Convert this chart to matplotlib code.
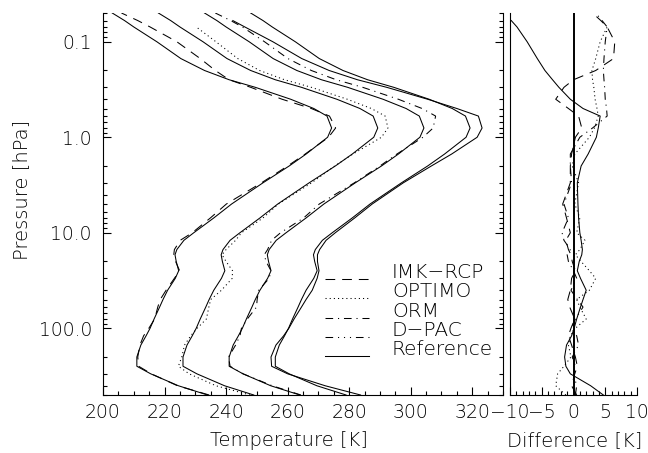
import numpy as np
import matplotlib
matplotlib.use('Agg')
import matplotlib.pyplot as plt
from matplotlib.ticker import FixedLocator, MultipleLocator, LogLocator, NullFormatter, FuncFormatter

# pressure levels [hPa], bottom to top
PRESSURE = [500, 400, 300, 250, 200, 150, 120, 100, 80, 60, 50, 40, 30, 25, 20, 17, 15,
            12, 10, 7, 5, 3, 2, 1.5, 1.0, 0.8, 0.6, 0.5, 0.4, 0.3, 0.25, 0.2, 0.15,
            0.1, 0.07, 0.06, 0.05]

# reference temperature profile [K]
T_REF = [234.0, 224.5, 215.5, 211.0, 211.0, 212.3, 214.0, 215.3, 216.6, 218.4, 219.5,
         221.0, 223.5, 224.6, 223.8, 223.4, 224.0, 226.3, 229.5, 236.0, 241.8, 252.0,
         260.5, 266.0, 273.0, 274.3, 272.8, 268.5, 261.0, 249.5, 241.0, 233.0, 225.3,
         217.5, 210.0, 207.0, 203.0]

nan = np.nan
# retrieval minus reference [K]
DIFF_IMK = [0.5, -0.3, 0.2, 0.6, 0.3, -0.3, -0.8, -0.4, 0.2, -0.6, -0.9, -0.5, -0.3, 0.3,
            -0.2, -0.4, -0.8, -1.2, -0.5, -1.1, -1.7, -0.5, -0.5, -0.3, 0.3, 1.3, 0.8,
            -0.8, -2.8, -1.5, 0.0, 3.5, 6.3, 6.5, 5.3, 4.3, 3.0]
DIFF_OPTIMO = [-1.2, -2.8, -2.5, -1.5, -0.4, -0.8, -0.5, 0.3, 2.0, 1.0, 0.5, 2.5, 3.5, 2.5,
               1.2, 0.3, 1.0, 1.8, 0.5, 1.0, 0.2, 0.8, -0.2, 0.2, 2.5, 3.3, 3.9, 3.7, 3.4,
               3.2, 3.0, 2.9, 3.5, 4.2, 5.3, nan, nan]
DIFF_ORM = [0.3, 0.5, 0.0, 0.3, -0.2, 0.8, 0.5, -0.3, 0.3, 1.5, 0.6, -0.4, 0.5, 0.0, -0.8,
            -1.0, -0.5, -1.5, -1.8, -0.8, -1.5, -0.3, -0.5, -0.5, 1.0, 3.0, 5.3, 5.2, 5.0,
            4.9, 4.8, 4.7, 4.8, 5.0, 5.3, 4.5, 3.5]
DIFF_DPAC = [4.7, 2.7, -0.5, -1.2, -1.4, -1.1, -0.3, 0.1, 0.5, 1.1, 1.5, 2.0, 1.1, 0.6, 0.9,
             1.3, 1.4, 1.2, 1.0, 0.8, 0.7, 0.6, 1.2, 2.3, 3.6, 3.9, 4.2, 1.5, -0.5, -2.3,
             -3.3, -4.5, -5.7, -7.3, -8.9, -9.8, nan]

# profiles are shifted by this much for clarity
OFFSETS = [0, 15, 30, 45]
LABELS = ['IMK\u2212RCP', 'OPTIMO', 'ORM', 'D\u2212PAC', 'Reference']

DASHED = (0, (7, 5))
DOTTED = (0, (0.8, 2.2))
DASHDOT = (0, (5.5, 3.5, 0.8, 3.5))
DASHDOT3 = (0, (5.5, 3.5, 0.8, 3.5, 0.8, 3.5, 0.8, 3.5))


def main():
    plt.rcParams['font.family'] = 'DejaVu Sans'
    plt.rcParams['font.weight'] = 'light'
    plt.rcParams['axes.labelweight'] = 'light'
    plt.rcParams['text.color'] = 'k'
    plt.rcParams['lines.scale_dashes'] = False
    plt.rcParams['axes.linewidth'] = 0.8

    p = np.array(PRESSURE)
    tref = np.array(T_REF)
    diffs = [np.array(DIFF_IMK), np.array(DIFF_OPTIMO), np.array(DIFF_ORM), np.array(DIFF_DPAC)]
    # D-PAC comes out solid in the original figure
    plot_styles = [DASHED, DOTTED, DASHDOT, '-']
    legend_styles = [DASHED, DOTTED, DASHDOT, DASHDOT3, '-']

    fig = plt.figure(figsize=(6.48, 4.53), dpi=100)
    ax1 = fig.add_axes([103 / 648, 1 - 395 / 453, 400 / 648, 382 / 453])
    ax2 = fig.add_axes([510 / 648, 1 - 395 / 453, 127 / 648, 382 / 453])

    lw = 0.75
    for off, d, ls in zip(OFFSETS, diffs, plot_styles):
        ax1.plot(tref + off, p, color='k', lw=lw, ls='-')
        ax1.plot(tref + d + off, p, color='k', lw=lw, ls=ls)

    for d, ls in zip(diffs, plot_styles):
        ax2.plot(d, p, color='k', lw=lw, ls=ls)
    ax2.axvline(0, color='k', lw=1.4)

    for ax in (ax1, ax2):
        ax.set_yscale('log')
        ax.set_ylim(500, 0.05)
        ax.spines['top'].set_visible(False)

    ax1.set_xlim(200, 330)
    ax1.xaxis.set_major_locator(FixedLocator([200, 220, 240, 260, 280, 300, 320]))
    ax1.xaxis.set_minor_locator(MultipleLocator(5))
    ax1.yaxis.set_major_locator(FixedLocator([0.1, 1, 10, 100]))
    ax1.yaxis.set_minor_locator(LogLocator(base=10, subs=np.arange(2, 10)))
    ax1.yaxis.set_major_formatter(FuncFormatter(lambda v, pos: {0.1: '0.1', 1: '1.0', 10: '10.0', 100: '100.0'}.get(v, '')))
    ax1.yaxis.set_minor_formatter(NullFormatter())
    ax1.tick_params(which='both', direction='in', top=False, right=True, labelsize=13.5,
                    labelcolor='k')
    ax1.tick_params(which='major', length=6, width=0.8)
    ax1.tick_params(which='minor', length=3, width=0.8)
    ax1.tick_params(axis='x', pad=6)
    ax1.tick_params(axis='y', pad=8)

    ax2.set_xlim(-10, 10)
    ax2.spines['right'].set_visible(False)
    ax2.xaxis.set_major_locator(MultipleLocator(5))
    ax2.xaxis.set_minor_locator(MultipleLocator(1))
    ax2.tick_params(which='both', direction='in', top=False, labelsize=13.5, pad=6,
                    labelcolor='k')
    ax2.tick_params(which='major', length=6, width=0.8)
    ax2.tick_params(which='minor', length=3, width=0.8)
    ax2.tick_params(axis='y', which='both', left=False, labelleft=False)

    ax1.set_xlabel('Temperature [K]', fontsize=14)
    ax1.xaxis.set_label_coords(0.465, -0.095)
    ax1.set_ylabel('Pressure [hPa]', fontsize=14)
    ax1.yaxis.set_label_coords(-0.18, 0.537)
    ax2.set_xlabel('Difference [K]', fontsize=14)
    ax2.xaxis.set_label_coords(0.51, -0.095)

    # legend drawn by hand, IDL style
    row = 19.4 / 382
    for i, (lab, ls) in enumerate(zip(LABELS, legend_styles)):
        yc = 0.321 - i * row
        ax1.plot([0.555, 0.665], [yc - 0.017, yc - 0.017], transform=ax1.transAxes,
                 color='k', lw=lw, ls=ls, clip_on=False)
        ax1.text(0.7225, yc, lab, transform=ax1.transAxes, fontsize=14.5,
                 va='center', ha='left')

    fig.savefig('out.png', dpi=100)


if __name__ == "__main__":
    main()
